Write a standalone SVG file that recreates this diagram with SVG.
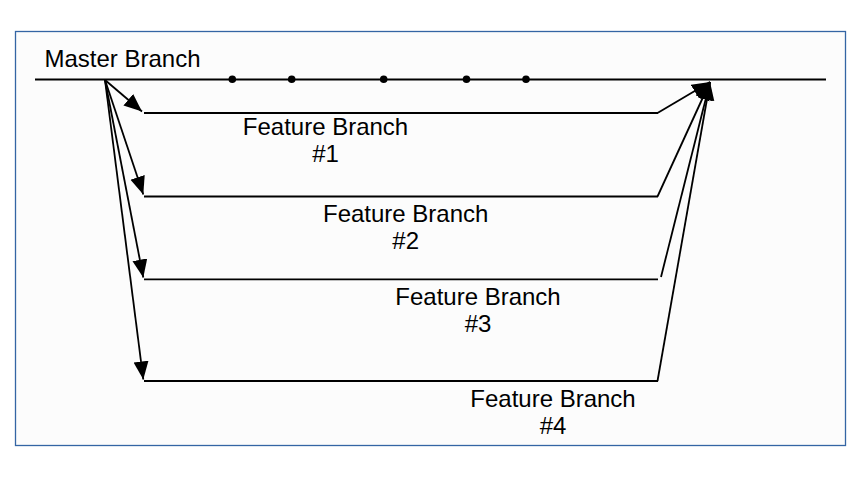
<svg xmlns="http://www.w3.org/2000/svg" width="864" height="480" viewBox="0 0 864 480">
  <style>
    .ln { stroke: #000; stroke-width: 1.8; fill: none; }
    .lbl { font-family: "Liberation Sans", Arial, sans-serif; font-size: 24px; fill: #000; }
    .mid { text-anchor: middle; }
  </style>
  <defs>
    <marker id="ah" markerUnits="userSpaceOnUse" markerWidth="20" markerHeight="16" refX="18" refY="7.5" orient="auto">
      <path d="M0,0 L18,7.5 L0,15 Z" fill="#000"/>
    </marker>
  </defs>
  <rect x="0" y="0" width="864" height="480" fill="#ffffff"/>
  <rect x="15.5" y="31.5" width="830" height="414" fill="#fcfcfc" stroke="#3465a4" stroke-width="1.3"/>

  <g id="master">
    <line class="ln" x1="35" y1="79.5" x2="826" y2="79.5"/>
    <g fill="#000">
      <circle cx="232.3" cy="79.3" r="3.8"/>
      <circle cx="291.7" cy="79.3" r="3.8"/>
      <circle cx="383.7" cy="79.3" r="3.8"/>
      <circle cx="466.5" cy="79.3" r="3.8"/>
      <circle cx="526" cy="79.3" r="3.8"/>
    </g>
    <text class="lbl" x="44.5" y="66.7">Master Branch</text>
  </g>

  <g id="feature1">
    <line class="ln" x1="144" y1="113" x2="658" y2="113"/>
    <text class="lbl mid" x="325.5" y="135">Feature Branch</text>
    <text class="lbl mid" x="325.5" y="162">#1</text>
  </g>
  <g id="feature2">
    <line class="ln" x1="144" y1="196.5" x2="658" y2="196.5"/>
    <text class="lbl mid" x="405.7" y="221.7">Feature Branch</text>
    <text class="lbl mid" x="405.7" y="249">#2</text>
  </g>
  <g id="feature3">
    <line class="ln" x1="144" y1="279.3" x2="658" y2="279.3"/>
    <text class="lbl mid" x="478" y="305">Feature Branch</text>
    <text class="lbl mid" x="478" y="331.7">#3</text>
  </g>
  <g id="feature4">
    <line class="ln" x1="144" y1="381" x2="658" y2="381"/>
    <text class="lbl mid" x="553" y="406.7">Feature Branch</text>
    <text class="lbl mid" x="553" y="434">#4</text>
  </g>

  <g id="connectors">
    <line class="ln" x1="105" y1="80" x2="142" y2="111.5" marker-end="url(#ah)"/>
    <line class="ln" x1="105" y1="80" x2="143.3" y2="194.5" marker-end="url(#ah)"/>
    <line class="ln" x1="105" y1="80" x2="143.3" y2="277.5" marker-end="url(#ah)"/>
    <line class="ln" x1="105" y1="80" x2="143.3" y2="379.5" marker-end="url(#ah)"/>
    <line class="ln" x1="657.5" y1="113" x2="710" y2="82" marker-end="url(#ah)"/>
    <line class="ln" x1="657.5" y1="196.5" x2="710" y2="82" marker-end="url(#ah)"/>
    <line class="ln" x1="661" y1="277" x2="710" y2="82" marker-end="url(#ah)"/>
    <line class="ln" x1="657.5" y1="381" x2="710" y2="82" marker-end="url(#ah)"/>
  </g>
</svg>
